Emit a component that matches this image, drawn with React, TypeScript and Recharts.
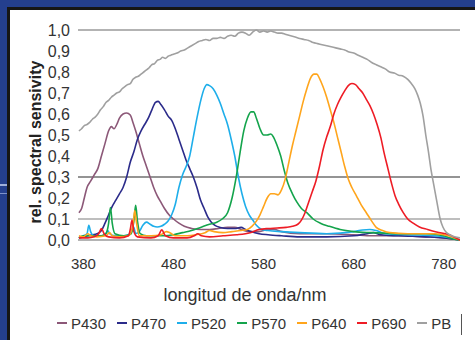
import React from 'react';
import { LineChart, Line, XAxis, YAxis, ReferenceLine } from 'recharts';

type Pt = [number, number];

const P430: Pt[] = [[375,0.13],[378,0.15],[381,0.2],[384,0.25],[388,0.28],[392,0.31],[396,0.34],[400,0.40],[404,0.46],[408,0.52],[411,0.54],[414,0.53],[417,0.55],[420,0.58],[424,0.60],[428,0.605],[432,0.595],[435,0.56],[438,0.52],[442,0.46],[446,0.40],[450,0.35],[454,0.30],[458,0.25],[462,0.21],[466,0.18],[470,0.15],[475,0.12],[480,0.10],[486,0.08],[492,0.065],[500,0.055],[510,0.05],[520,0.05],[530,0.055],[540,0.06],[548,0.06],[555,0.05],[565,0.04],[575,0.04],[585,0.05],[592,0.05],[600,0.04],[620,0.03],[650,0.03],[680,0.025],[700,0.02],[730,0.02],[760,0.015],[780,0.01],[798,0.0]];

const P470: Pt[] = [[375,0.01],[380,0.015],[385,0.02],[390,0.025],[395,0.03],[400,0.045],[404,0.08],[408,0.12],[412,0.16],[416,0.19],[420,0.22],[424,0.25],[428,0.30],[432,0.37],[436,0.42],[440,0.48],[444,0.52],[448,0.55],[452,0.58],[456,0.62],[460,0.655],[463,0.66],[466,0.645],[470,0.62],[474,0.59],[478,0.57],[482,0.53],[486,0.48],[490,0.43],[494,0.38],[498,0.34],[502,0.30],[506,0.25],[510,0.19],[514,0.15],[518,0.11],[522,0.085],[526,0.07],[532,0.06],[540,0.055],[548,0.055],[555,0.06],[560,0.05],[566,0.04],[575,0.03],[585,0.025],[600,0.02],[620,0.015],[650,0.015],[680,0.02],[695,0.03],[702,0.035],[710,0.025],[730,0.02],[760,0.015],[780,0.01],[798,0.0]];

const P520: Pt[] = [[375,0.01],[380,0.02],[384,0.03],[386,0.07],[388,0.04],[392,0.02],[400,0.02],[405,0.03],[407,0.045],[409,0.03],[415,0.02],[425,0.02],[432,0.03],[436,0.06],[438,0.03],[442,0.04],[446,0.07],[450,0.085],[454,0.075],[458,0.065],[462,0.062],[466,0.065],[470,0.075],[474,0.09],[478,0.12],[482,0.17],[486,0.25],[490,0.31],[494,0.35],[498,0.40],[502,0.49],[506,0.58],[510,0.66],[514,0.72],[517,0.74],[520,0.735],[524,0.72],[528,0.69],[532,0.65],[536,0.60],[540,0.55],[544,0.48],[548,0.40],[552,0.30],[556,0.22],[560,0.16],[564,0.12],[568,0.095],[572,0.07],[578,0.05],[585,0.045],[600,0.04],[620,0.035],[650,0.03],[680,0.04],[690,0.048],[698,0.05],[705,0.045],[715,0.03],[740,0.025],[770,0.02],[798,0.0]];

const P570: Pt[] = [[375,0.01],[380,0.02],[390,0.02],[400,0.02],[405,0.03],[408,0.08],[410,0.155],[412,0.08],[415,0.03],[425,0.02],[433,0.03],[436,0.09],[438,0.165],[440,0.09],[443,0.03],[450,0.02],[460,0.02],[470,0.02],[480,0.025],[490,0.035],[500,0.045],[510,0.06],[520,0.075],[528,0.085],[534,0.10],[540,0.13],[545,0.2],[550,0.31],[554,0.42],[558,0.52],[562,0.58],[566,0.61],[569,0.61],[572,0.58],[576,0.53],[580,0.50],[584,0.50],[588,0.505],[591,0.49],[595,0.45],[599,0.40],[603,0.33],[607,0.27],[612,0.22],[617,0.18],[622,0.15],[628,0.13],[635,0.10],[643,0.08],[653,0.065],[665,0.05],[680,0.04],[700,0.035],[730,0.03],[760,0.03],[780,0.02],[790,0.005],[798,0.0]];

const P640: Pt[] = [[375,0.02],[380,0.015],[385,0.03],[388,0.02],[395,0.015],[405,0.02],[409,0.035],[412,0.02],[420,0.015],[430,0.02],[435,0.07],[437,0.14],[439,0.08],[442,0.02],[455,0.02],[466,0.025],[472,0.04],[476,0.035],[482,0.02],[495,0.02],[505,0.025],[515,0.035],[520,0.045],[525,0.04],[535,0.035],[545,0.04],[555,0.045],[562,0.05],[567,0.065],[572,0.09],[576,0.12],[580,0.16],[584,0.20],[588,0.22],[592,0.22],[596,0.215],[600,0.24],[604,0.29],[608,0.37],[612,0.45],[616,0.52],[620,0.59],[624,0.66],[628,0.72],[632,0.77],[636,0.79],[639,0.79],[642,0.77],[646,0.73],[650,0.68],[654,0.62],[658,0.56],[662,0.49],[666,0.42],[670,0.35],[674,0.29],[678,0.25],[683,0.21],[688,0.17],[694,0.13],[700,0.09],[705,0.06],[712,0.045],[720,0.035],[740,0.03],[770,0.03],[785,0.02],[792,0.01],[798,0.0]];

const P690: Pt[] = [[375,0.01],[385,0.01],[392,0.015],[397,0.03],[400,0.055],[403,0.03],[408,0.015],[420,0.01],[430,0.02],[432,0.05],[434,0.095],[436,0.04],[440,0.015],[455,0.01],[463,0.02],[467,0.048],[471,0.02],[480,0.01],[495,0.01],[503,0.02],[507,0.03],[511,0.02],[520,0.015],[535,0.02],[550,0.025],[565,0.035],[575,0.05],[585,0.055],[595,0.057],[605,0.06],[612,0.065],[618,0.075],[622,0.095],[626,0.13],[630,0.18],[634,0.23],[638,0.28],[642,0.35],[646,0.43],[650,0.49],[654,0.54],[658,0.60],[662,0.645],[666,0.68],[670,0.71],[674,0.735],[678,0.745],[682,0.74],[686,0.72],[690,0.70],[694,0.67],[698,0.64],[702,0.60],[706,0.55],[710,0.49],[714,0.41],[718,0.34],[722,0.27],[726,0.21],[730,0.17],[735,0.13],[740,0.10],[746,0.08],[753,0.062],[762,0.05],[772,0.038],[787,0.024],[793,0.01],[798,0.0]];

const PB: Pt[] = [[375,0.52],[378,0.53],[381,0.545],[384,0.55],[387,0.56],[390,0.575],[393,0.585],[396,0.60],[399,0.62],[402,0.635],[405,0.655],[408,0.665],[411,0.68],[414,0.69],[417,0.70],[420,0.705],[423,0.72],[426,0.73],[429,0.74],[432,0.745],[435,0.765],[438,0.775],[441,0.78],[444,0.79],[447,0.80],[450,0.81],[453,0.82],[456,0.835],[459,0.84],[462,0.855],[465,0.86],[468,0.87],[471,0.865],[474,0.875],[477,0.88],[480,0.885],[484,0.89],[488,0.9],[492,0.905],[496,0.915],[500,0.925],[504,0.935],[508,0.945],[512,0.95],[516,0.955],[520,0.95],[524,0.96],[528,0.96],[532,0.965],[536,0.96],[540,0.97],[544,0.975],[548,0.97],[552,0.985],[556,0.99],[560,0.985],[564,0.975],[568,0.99],[572,1.0],[576,0.99],[580,0.995],[584,0.99],[588,0.995],[592,0.99],[596,0.985],[600,0.985],[604,0.98],[608,0.975],[612,0.97],[616,0.965],[620,0.96],[625,0.955],[630,0.95],[635,0.94],[640,0.935],[645,0.93],[650,0.925],[655,0.92],[660,0.915],[665,0.91],[670,0.905],[675,0.895],[680,0.89],[685,0.88],[690,0.87],[695,0.86],[700,0.845],[705,0.835],[710,0.825],[715,0.815],[720,0.80],[725,0.795],[730,0.785],[735,0.78],[740,0.765],[744,0.745],[748,0.72],[751,0.69],[754,0.65],[757,0.59],[760,0.5],[763,0.42],[766,0.33],[769,0.26],[772,0.19],[776,0.10],[779,0.062],[783,0.035],[787,0.024],[792,0.015],[798,0.01]];

const seriesNames = ['P430', 'P470', 'P520', 'P570', 'P640', 'P690', 'PB'];
const seriesData: Pt[][] = [P430, P470, P520, P570, P640, P690, PB];
const seriesColors = ['#8c5878', '#2b2b8a', '#1eaeea', '#14a44c', '#ffa51c', '#ee1c25', '#a0a0a0'];

const xTicks = [380, 480, 580, 680, 780];
const yTicks = [0, 0.1, 0.2, 0.3, 0.4, 0.5, 0.6, 0.7, 0.8, 0.9, 1.0];
const gridValues = [1.0, 0.3, 0.1];
const gridColors = ['#9a9a9a', '#707070', '#a8a8a8'];

const FONT = '"Liberation Sans", Arial, Helvetica, sans-serif';

export default function App() {
  return (
    <div style={{ position: 'fixed', left: 0, top: 0, width: 475, height: 340, background: '#243f8e', overflow: 'hidden', fontFamily: FONT }}>
      <div style={{ position: 'absolute', left: 0, top: 184, width: 8, height: 2, background: '#9fb0dc' }} />
      <div style={{ position: 'absolute', left: 0, top: 193, width: 8, height: 1, background: '#7f93c9' }} />
      <div style={{ position: 'absolute', left: 7, top: 7, width: 480, height: 345, background: '#fff', borderTop: '3px solid #161616', borderLeft: '3px solid #161616' }} />
      <div style={{ position: 'absolute', left: 0, top: 0 }}>
        <LineChart width={475} height={340} margin={{ top: 30, right: 15, bottom: 70, left: 28 }}>
          <XAxis
            type="number"
            dataKey="nm"
            domain={[374, 798]}
            ticks={xTicks}
            interval={0}
            allowDataOverflow
            axisLine={false}
            tickLine={false}
            tickMargin={12}
            height={30}
            tick={{ fontSize: 15, fill: '#333', fontFamily: FONT }}
          />
          <YAxis
            type="number"
            domain={[0, 1]}
            ticks={yTicks}
            interval={0}
            width={50}
            axisLine={false}
            tickLine={false}
            tickFormatter={(v: number) => v.toFixed(1).replace('.', ',')}
            tick={{ fontSize: 16, fill: '#333', fontFamily: FONT }}
          />
          {gridValues.map((g, i) => (
            <ReferenceLine key={g} y={g} stroke={gridColors[i]} strokeWidth={1.3} />
          ))}
          <ReferenceLine y={0} stroke="#b4b4b4" strokeWidth={2} />
          {seriesData.map((d, i) => (
            <Line
              key={seriesNames[i]}
              data={d.map(([nm, v]) => ({ nm, v }))}
              dataKey="v"
              name={seriesNames[i]}
              type="monotone"
              stroke={seriesColors[i]}
              strokeWidth={1.6}
              dot={false}
              isAnimationActive={false}
            />
          ))}
        </LineChart>
      </div>
      <div style={{ position: 'absolute', left: 36, top: 142, width: 0, height: 0 }}>
        <div style={{ position: 'absolute', left: -120, top: -10, width: 240, height: 20, lineHeight: '20px', textAlign: 'center', transform: 'rotate(-90deg)', fontSize: 16, fontWeight: 'bold', color: '#222', whiteSpace: 'nowrap' }}>
          rel. spectral sensivity
        </div>
      </div>
      <div style={{ position: 'absolute', left: 95, top: 284, width: 300, textAlign: 'center', fontSize: 18, color: '#333', lineHeight: '22px' }}>
        longitud de onda/nm
      </div>
      <div style={{ position: 'absolute', left: 57, top: 313, display: 'flex', alignItems: 'center', height: 20, fontSize: 15, color: '#333', whiteSpace: 'nowrap' }}>
        {seriesNames.map((n, i) => (
          <div key={n} style={{ display: 'flex', alignItems: 'center', marginRight: i < seriesNames.length - 1 ? 11 : 0 }}>
            <div style={{ width: 10, height: 2, background: seriesColors[i], marginRight: 4 }} />
            <span>{n}</span>
          </div>
        ))}
      </div>
      <div style={{ position: 'absolute', left: 461, top: 314, width: 1, height: 21, background: '#555' }} />
    </div>
  );
}
